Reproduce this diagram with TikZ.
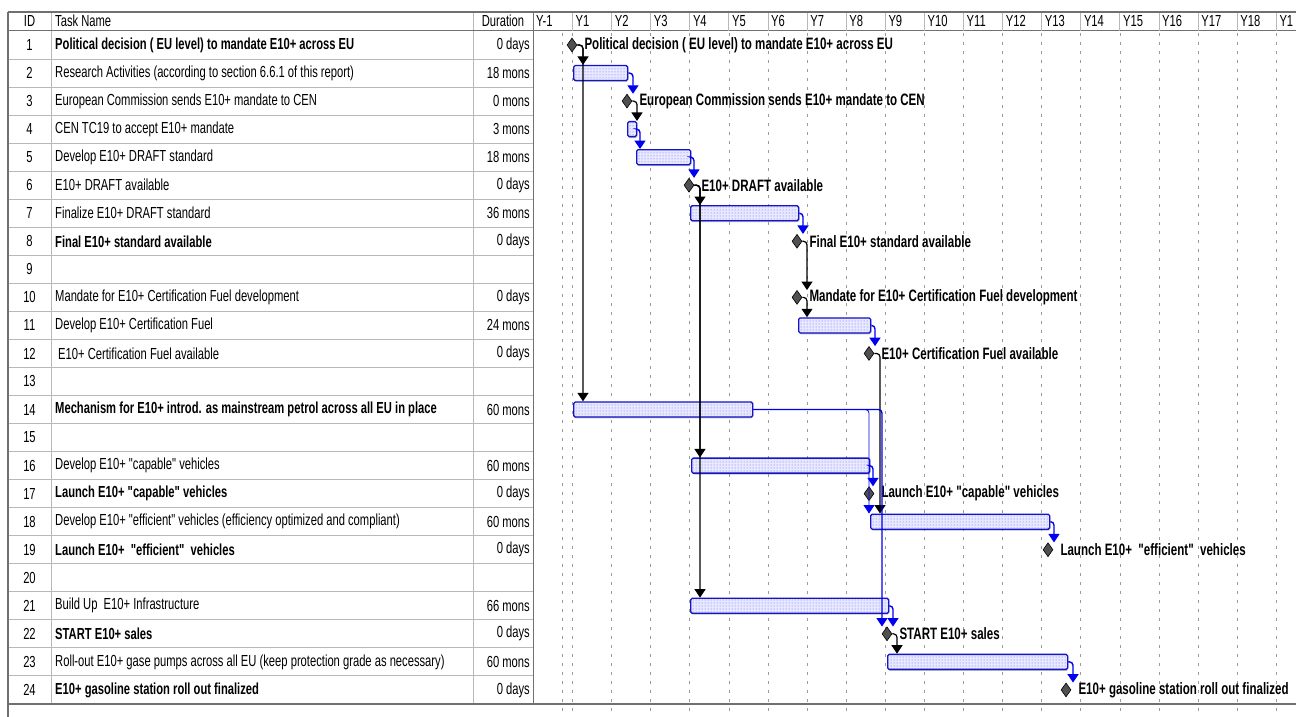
\documentclass[tikz,border=0pt]{standalone}
\usepackage{fontspec}
\setmainfont{Liberation Sans}[FakeStretch=0.7, Ligatures=TeXOff]
\usetikzlibrary{arrows.meta,positioning,shapes.geometric,patterns,shadows}
\definecolor{linkblue}{HTML}{0000F0}
\definecolor{barblue}{HTML}{1414C8}
\definecolor{msgray}{HTML}{505050}
\definecolor{gridgray}{HTML}{9A9A9A}
\definecolor{tablegray}{HTML}{B8B8B8}
\definecolor{framegray}{HTML}{707070}

\begin{document}
\begin{tikzpicture}[x=1pt, y=-1pt,
  declare function={rowy(\r)=45+28.04*(\r-1);},
  every node/.style={font=\fontsize{16}{18}\selectfont, inner sep=1pt},
  taskname/.style={anchor=west},
  taskbold/.style={anchor=west, font=\fontsize{16}{18}\selectfont\bfseries},
  bar/.style={rectangle, rounded corners=1.5pt, draw=barblue, line width=1.3pt,
    minimum height=15pt, inner sep=0pt, anchor=west,
    drop shadow={shadow xshift=0.6pt, shadow yshift=-1.4pt, opacity=0.5, fill=gray},
    preaction={fill=blue!9}, pattern=dots, pattern color=blue!60},
  ms/.style={diamond, draw=black, fill=msgray, line width=0.6pt,
    minimum width=10pt, minimum height=14pt, inner sep=0pt},
  mslabel/.style={font=\fontsize{16.5}{18}\selectfont\bfseries, inner sep=1pt},
  blacklink/.style={-{Triangle[width=11pt,length=8.5pt]}, line width=1.2pt, black, rounded corners=3.5pt},
  bluelink/.style={-{Triangle[width=11pt,length=8.5pt]}, line width=1.4pt, linkblue, rounded corners=3.5pt},
  gridline/.style={gridgray, line width=0.8pt, dash pattern=on 3pt off 6pt},
]
\useasboundingbox (0,0) rectangle (1296,717);
\clip (0,0) rectangle (1296,717);

% Time grid
\draw[gridline] (562,33) -- (562,713);
\foreach \k in {0,...,18}
  \draw[gridline] ({572.5+39.1*\k},33) -- ({572.5+39.1*\k},713);

% Table lines
\foreach \i in {1,...,23}
  \draw[tablegray, line width=1pt] (8,{31+28.04*\i}) -- (533,{31+28.04*\i});
\foreach \x in {51,473}
  \draw[tablegray, line width=1pt] (\x,12) -- (\x,704);
\draw[framegray, line width=1pt] (533,12) -- (533,704);
\draw[framegray, line width=1pt] (8,31) -- (1296,31);
\foreach \k in {0,...,18}
  \draw[tablegray, line width=1pt] ({572.5+39.1*\k},12) -- ({572.5+39.1*\k},31);
\draw[framegray, line width=1.3pt] (8,12) -- (1296,12);
\draw[framegray, line width=1.3pt] (8,12) -- (8,717);
\draw[framegray, line width=1.3pt] (8,704) -- (1296,704);

% Header
\node (hid) at (29.5,21) {ID};
\node[taskname] (hname) at (54,21) {Task Name};
\node (hdur) at (503,21) {Duration};
\node[anchor=west] (hy0) at (535,21) {Y-1};
\foreach \k in {1,...,18}
  \node[anchor=west] (hy\k) at ({572.5+39.1*(\k-1)+2},21) {Y\k};
\node[anchor=west] (hy19) at ({572.5+39.1*18+2},21) {Y1};

% Task rows
\foreach \i/\nm/\du/\st in {
  1/{Political decision ( EU level) to mandate E10+ across EU}/{0 days}/taskbold,
  2/{Research Activities (according to section 6.6.1 of this report)}/{18 mons}/taskname,
  3/{European Commission sends E10+ mandate to CEN}/{0 mons}/taskname,
  4/{CEN TC19 to accept E10+ mandate}/{3 mons}/taskname,
  5/{Develop E10+ DRAFT standard}/{18 mons}/taskname,
  6/{E10+ DRAFT available}/{0 days}/taskname,
  7/{Finalize E10+ DRAFT standard}/{36 mons}/taskname,
  8/{Final E10+ standard available}/{0 days}/taskbold,
  9/{}/{}/taskname,
  10/{Mandate for E10+ Certification Fuel development}/{0 days}/taskname,
  11/{Develop E10+ Certification Fuel}/{24 mons}/taskname,
  12/{\hspace*{3pt}E10+ Certification Fuel available}/{0 days}/taskname,
  13/{}/{}/taskname,
  14/{Mechanism for E10+ introd. as mainstream petrol across all EU in place}/{60 mons}/taskbold,
  15/{}/{}/taskname,
  16/{Develop E10+ "capable" vehicles}/{60 mons}/taskname,
  17/{Launch E10+ "capable" vehicles}/{0 days}/taskbold,
  18/{Develop E10+ "efficient" vehicles (efficiency optimized and compliant)}/{60 mons}/taskname,
  19/{Launch E10+\ \ "efficient"\ \ vehicles}/{0 days}/taskbold,
  20/{}/{}/taskname,
  21/{Build Up\ \ E10+ Infrastructure}/{66 mons}/taskname,
  22/{START E10+ sales}/{0 days}/taskbold,
  23/{Roll-out E10+ gase pumps across all EU (keep protection grade as necessary)}/{60 mons}/taskname,
  24/{E10+ gasoline station roll out finalized}/{0 days}/taskbold}
{
  \node (id\i) at (29.5,{rowy(\i)}) {\i};
  \node[\st] (name\i) at (54,{rowy(\i)}) {\nm};
  \node[anchor=east] (dur\i) at (531,{rowy(\i)}) {\du};
}

% Bars
\foreach \r/\a/\b in {2/573/627, 4/627/636, 5/636/690, 7/690/798, 11/798/870,
    14/573/752, 16/691/869, 18/870/1049, 21/690/888, 23/887/1067}
  \node[bar, minimum width={\b-\a}] (bar\r) at (\a,{rowy(\r)}) {};

% Milestones
\foreach \r/\x/\t in {
  1/572/{Political decision ( EU level) to mandate E10+ across EU},
  3/627/{European Commission sends E10+ mandate to CEN},
  6/689/{E10+ DRAFT available},
  8/797/{Final E10+ standard available},
  10/797/{Mandate for E10+ Certification Fuel development},
  12/869/{E10+ Certification Fuel available},
  17/869/{Launch E10+ "capable" vehicles},
  19/1048/{Launch E10+\ \ "efficient"\ \ vehicles},
  22/887/{START E10+ sales},
  24/1066/{E10+ gasoline station roll out finalized}}
{
  \node[ms] (ms\r) at (\x,{rowy(\r)}) {};
  \node[mslabel, right=6pt of ms\r] (lab\r) {\t};
}

% Links
\draw[blacklink] (ms1.east) -| ([xshift=10pt]bar2.north west);
\draw[blacklink] (ms1.east) -| ([xshift=10pt]bar14.north west);
\draw[bluelink] (bar2.east) -| ([xshift=6pt]ms3.north);
\draw[blacklink] (ms3.east) -| ([xshift=10pt]bar4.north west);
\draw[bluelink] (bar4.east) -| ([xshift=4pt]bar5.north west);
\draw[bluelink] (bar5.east) -| ([xshift=5pt]ms6.north);
\draw[blacklink] (ms6.east) -| ([xshift=10pt]bar7.north west);
\draw[blacklink] (ms6.east) -| ([xshift=9pt]bar16.north west);
\draw[blacklink] (ms6.east) -| ([xshift=10pt]bar21.north west);
\draw[bluelink] (bar7.east) -| ([xshift=6pt]ms8.north);
\draw[blacklink] (ms8.east) -| ([xshift=10pt]ms10.north);
\draw[blacklink] (ms10.east) -| ([xshift=9pt]bar11.north west);
\draw[bluelink] (bar11.east) -| ([xshift=6pt]ms12.north);
\draw[blacklink] (ms12.east) -| ([xshift=10pt]bar18.north west);
\draw[bluelink, line width=0.8pt] (bar14.east) -| ([xshift=-1pt]bar18.north west);
\draw[bluelink] (bar14.east) -| ([xshift=-5pt]ms22.north);
\draw[bluelink] (bar16.east) -| ([xshift=4pt]ms17.north);
\draw[bluelink] (bar18.east) -| ([xshift=6pt]ms19.north);
\draw[bluelink] (bar21.east) -| ([xshift=6pt]ms22.north);
\draw[blacklink] (ms22.east) -| ([xshift=10pt]bar23.north west);
\draw[bluelink] (bar23.east) -| ([xshift=7pt]ms24.north);
\end{tikzpicture}
\end{document}
